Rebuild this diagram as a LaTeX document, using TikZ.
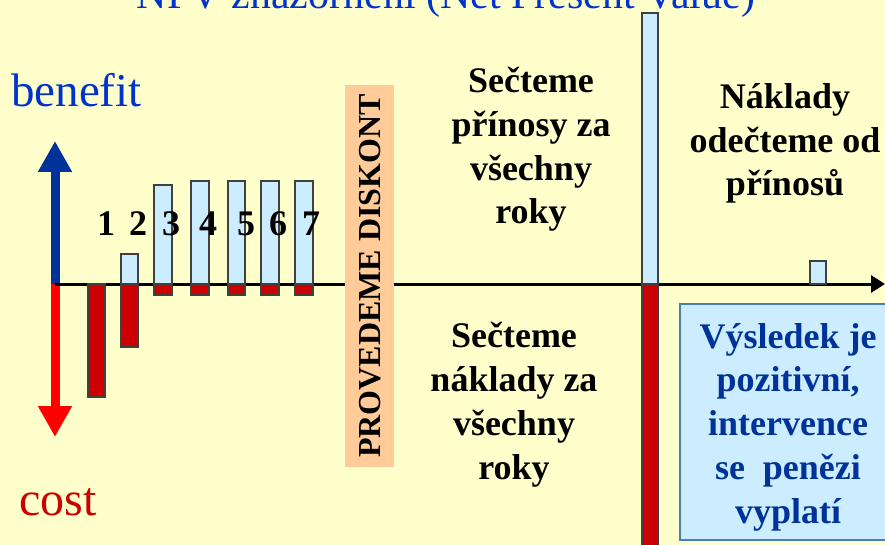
\documentclass[tikz,border=0pt]{standalone}
\usepackage{fontspec}
\setmainfont{Liberation Serif}
\usetikzlibrary{arrows.meta}
\definecolor{paper}{HTML}{FFFFCC}
\definecolor{benfill}{HTML}{CCECFF}
\definecolor{costfill}{HTML}{CC0000}
\definecolor{upblue}{HTML}{003399}
\definecolor{downred}{HTML}{FF0000}
\definecolor{titleblue}{HTML}{0033CC}
\definecolor{costtext}{HTML}{CC0000}
\definecolor{discount}{HTML}{FFCC99}
\definecolor{resultedge}{HTML}{4A7EBB}
\definecolor{resulttext}{HTML}{003399}
\begin{document}
\begin{tikzpicture}[x=1pt,y=-1pt,
  benbar/.style={fill=benfill, draw=black!75, line width=1.2pt},
  costbar/.style={fill=costfill, draw=black!75, line width=1.2pt},
  % anchor=base of a multi-line node sits on its last line
  bigtext/.style={font=\fontsize{36}{43.7}\selectfont\bfseries, align=center, inner sep=0pt, anchor=base},
  yearnum/.style={font=\fontsize{36}{36}\selectfont\bfseries, anchor=base, inner sep=0pt},
]
% page
\fill[paper] (0,0) rectangle (885,545);
\useasboundingbox (0,0) rectangle (885,545);
\clip (0,0) rectangle (885,545);

% heading (runs off the top edge)
\node[anchor=base, inner sep=0pt, font=\fontsize{42}{42}\selectfont, text=titleblue]
  (title) at (446,9) {NPV znázornění (Net Present Value)};

% benefit / cost axis
\coordinate (origin) at (55,284);
\coordinate (uptip) at (55,141);
\coordinate (downtip) at (55,437);
\coordinate (timeend) at (885,284);
\draw[upblue, line width=9pt, -{Triangle[width=32pt,length=31pt]}] (origin) -- (uptip);
\draw[downred, line width=9pt, -{Triangle[width=32pt,length=31pt]}] (origin) -- (downtip);
\draw[black, line width=3pt, -{Triangle[width=17pt,length=14pt]}] (origin) -- (timeend);

% yearly flows
\draw[costbar] (88,284) rectangle (105,397);
\draw[benbar]  (121,254) rectangle (138,284);
\draw[costbar] (121,284) rectangle (138,347);
\draw[benbar]  (154,185) rectangle (172,284);
\draw[costbar] (154,284) rectangle (172,295);
\foreach \xl/\xr in {191/209, 228/245, 261/279, 295/313}{
  \draw[benbar]  (\xl,181) rectangle (\xr,284);
  \draw[costbar] (\xl,284) rectangle (\xr,295);
}

% year numbers
\node[yearnum] (y1) at (106,236) {1};
\node[yearnum] (y2) at (138,236) {2};
\node[yearnum] (y3) at (171,236) {3};
\node[yearnum] (y4) at (208,236) {4};
\node[yearnum] (y5) at (246,236) {5};
\node[yearnum] (y6) at (278,236) {6};
\node[yearnum] (y7) at (311,236) {7};

% discounting strip
\fill[discount] (345,85) rectangle (394,467);
\node[rotate=90, inner sep=0pt, font=\fontsize{32}{32}\selectfont\bfseries]
  (disc) at (370,276) {PROVEDEME DISKONT};

% summed benefits and costs
\node[bigtext] (sumben) at (531,224) {Sečteme\\přínosy za\\všechny\\roky};
\node[bigtext] (sumcost) at (514,479) {Sečteme\\náklady za\\všechny\\roky};

% totals
\draw[benbar]  (642,13) rectangle (658,284);
\draw[costbar] (642,284) rectangle (658,560);

% difference
\node[bigtext] (diff) at (785,196) {Náklady\\odečteme od\\přínosů};
\draw[benbar] (810,261) rectangle (826,284);

% result
\draw[fill=benfill, draw=resultedge, line width=1.5pt] (680,304) rectangle (895,540);
\node[bigtext, text=resulttext] (result) at (788,523)
  {Výsledek je\\pozitivní,\\intervence\\se~ penězi\\vyplatí};

% axis labels
\node[anchor=base west, inner sep=0pt, font=\fontsize{47}{47}\selectfont, text=titleblue]
  (benefit) at (11,107) {benefit};
\node[anchor=base west, inner sep=0pt, font=\fontsize{48}{48}\selectfont, text=costtext]
  (cost) at (19,515) {cost};
\end{tikzpicture}
\end{document}
